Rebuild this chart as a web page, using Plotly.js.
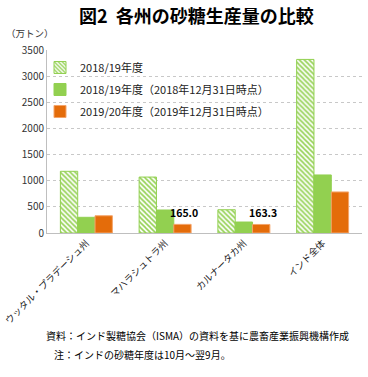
<!DOCTYPE html>
<html><head><meta charset="utf-8">
<script src="https://cdn.plot.ly/plotly-3.0.1.min.js"></script>
<style>html,body{margin:0;padding:0;background:#fff}#c{width:368px;height:377px}</style>
</head><body><div id="c"></div>
<script>
const categories = ['ウッタル・プラデーシュ州', 'マハラシュトラ州', 'カルナータカ州', 'インド全体'];
const seriesNames = ['2018/19年度', '2018/19年度（2018年12月31日時点）', '2019/20年度（2019年12月31日時点）'];
const final1819 = [1180, 1070, 445, 3320];
const dec1819 = [300, 440, 210, 1110];
const dec1920 = [330, 165.0, 163.3, 785];
const labelled = [false, true, true, false];
const yTicks = [0, 500, 1000, 1500, 2000, 2500, 3000, 3500];

const GREEN = '#92D050', ORANGE = '#E46C0A';
const FONT = '"Noto Sans CJK JP", "Noto Sans", sans-serif';
const L = 47, R = 362, T = 50, B = 233.5, W = 368, H = 377;
const px = x => (x - L) / (R - L);
const py = y => (B - y) / (B - T);

const traces = [
  {type: 'bar', name: seriesNames[0], x: categories, y: final1819, legendgroup: 'a',
   marker: {color: 'white', line: {color: GREEN, width: 1},
            pattern: {shape: '\\', fgcolor: GREEN, bgcolor: 'white', size: 3.5, solidity: 0.45}}},
  {type: 'bar', name: seriesNames[1], x: categories, y: dec1819, legendgroup: 'b',
   marker: {color: GREEN, line: {color: GREEN, width: 1}}},
  {type: 'bar', name: seriesNames[2], x: categories, y: dec1920, legendgroup: 'c',
   marker: {color: ORANGE, line: {color: '#F4A46A', width: 1}}}
];

const annotations = [
  {text: '<b>図2  各州の砂糖生産量の比較</b>', xref: 'paper', yref: 'paper', x: px(196), y: py(15),
   xanchor: 'center', yanchor: 'middle', showarrow: false, font: {family: FONT, size: 18, color: '#000'}},
  {text: '（万トン）', xref: 'paper', yref: 'paper', x: px(4), y: py(33),
   xanchor: 'left', yanchor: 'middle', showarrow: false, font: {family: FONT, size: 9.5, color: '#333'}},
  {text: '資料：インド製糖協会（ISMA）の資料を基に農畜産業振興機構作成', xref: 'paper', yref: 'paper', x: px(44), y: py(336),
   xanchor: 'left', yanchor: 'middle', showarrow: false, font: {family: FONT, size: 10, color: '#000'}},
  {text: '注：インドの砂糖年度は10月～翌9月。', xref: 'paper', yref: 'paper', x: px(52), y: py(355),
   xanchor: 'left', yanchor: 'middle', showarrow: false, font: {family: FONT, size: 10, color: '#000'}}
];
categories.forEach((c, i) => {
  if (labelled[i]) {
    annotations.push({text: '<b>' + dec1920[i].toFixed(1) + '</b>', x: c, y: dec1920[i], xref: 'x', yref: 'y',
      xshift: 19, yshift: 2, yanchor: 'bottom', showarrow: false, font: {family: FONT, size: 10.5, color: '#000'}});
  }
});

const layout = {
  width: W, height: H,
  margin: {l: L, r: W - R, t: T, b: H - B},
  paper_bgcolor: 'white', plot_bgcolor: 'white',
  barmode: 'group', bargap: 0.34, bargroupgap: 0,
  showlegend: true,
  legend: {x: px(40), y: py(53), xanchor: 'left', yanchor: 'top', bgcolor: 'rgba(0,0,0,0)',
           font: {family: FONT, size: 11, color: '#222'}, traceorder: 'grouped', tracegroupgap: 3,
           itemwidth: 30},
  xaxis: {type: 'category', tickangle: -45, showline: true, linecolor: '#bfbfbf', linewidth: 1,
          ticks: '', tickfont: {family: FONT, size: 9.5, color: '#222'}, fixedrange: true},
  yaxis: {range: [0, 3500], tickvals: yTicks, ticktext: yTicks.map(String), showline: true,
          linecolor: '#bfbfbf', linewidth: 1, gridcolor: '#c8c8c8', griddash: 'dot', gridwidth: 1,
          zeroline: false, ticks: '', tickfont: {family: FONT, size: 10, color: '#333'}, fixedrange: true},
  annotations: annotations,
  font: {family: FONT}
};
Plotly.newPlot('c', traces, layout, {staticPlot: true, displayModeBar: false});
</script></body></html>
